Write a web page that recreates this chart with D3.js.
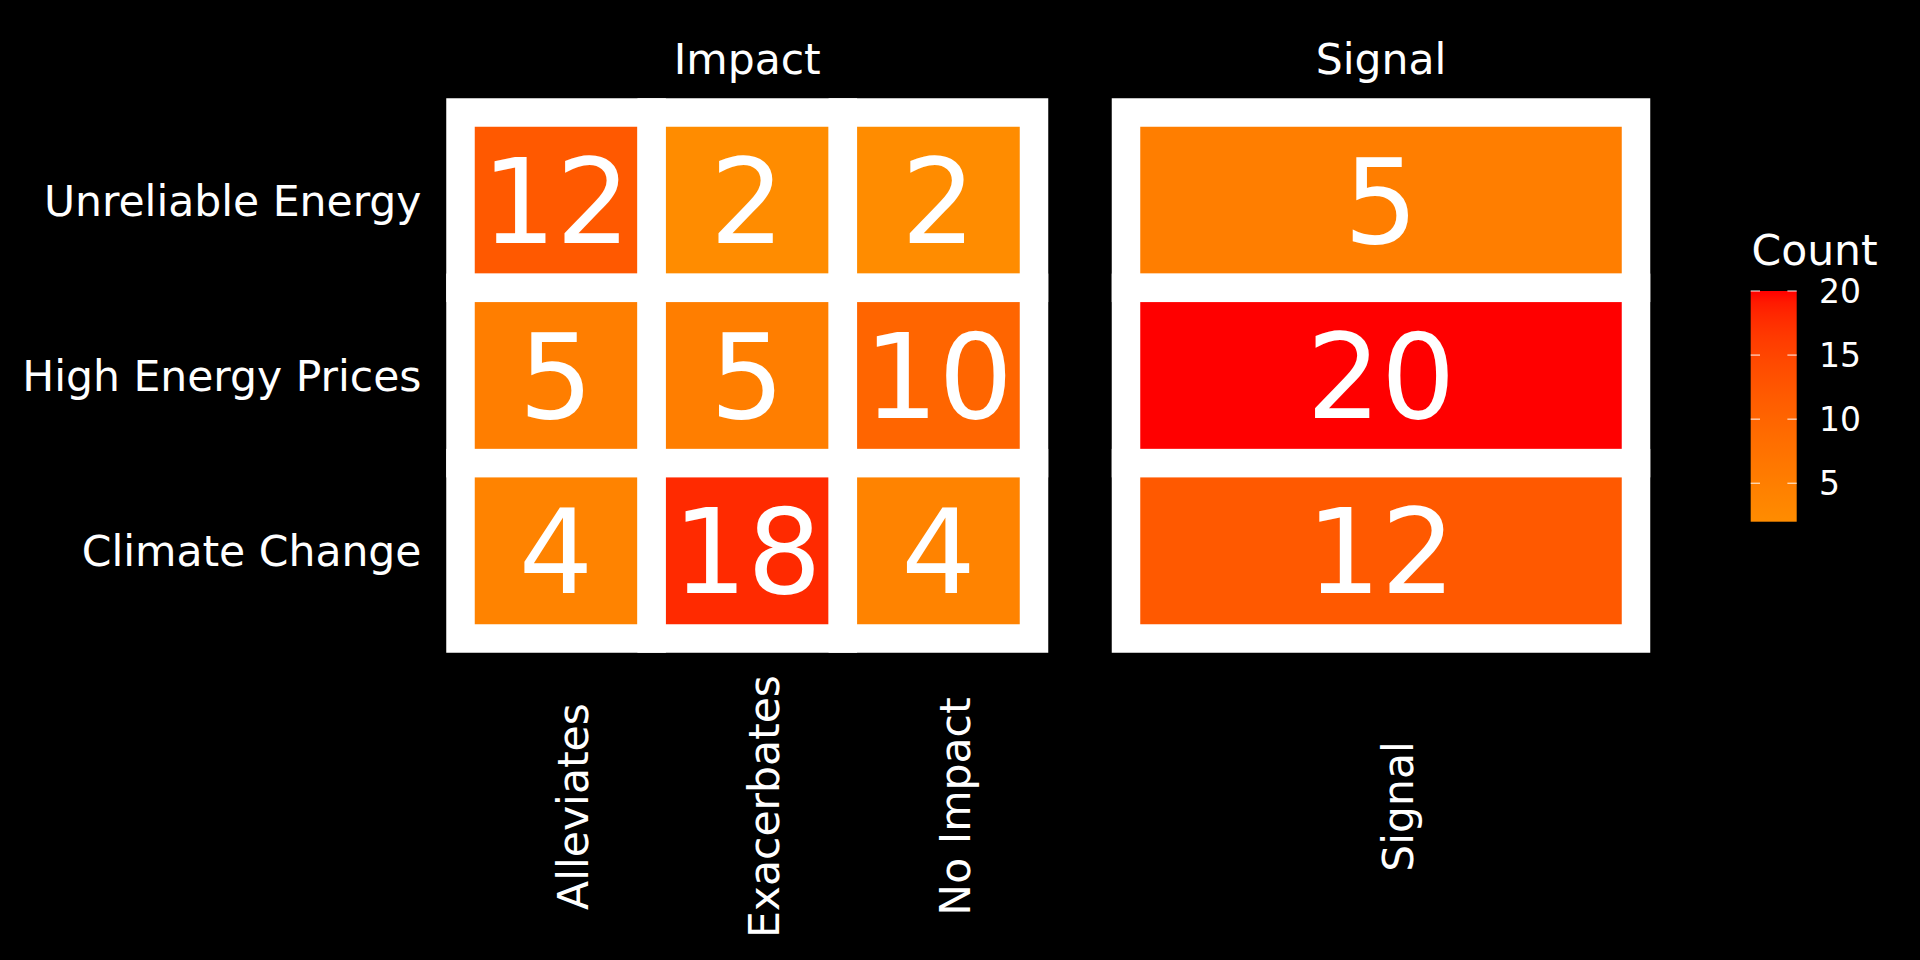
<!DOCTYPE html>
<html>
<head>
<meta charset="utf-8">
<script src="https://cdn.jsdelivr.net/npm/d3@7"></script>
<style>
  html, body { margin: 0; padding: 0; background: #000; }
  svg { display: block; }
  text { font-family: "DejaVu Sans", sans-serif; fill: #fff; }
</style>
</head>
<body>
<svg id="chart" width="1920" height="960"></svg>
<script>
// ---- data ----
const rows = ["Unreliable Energy", "High Energy Prices", "Climate Change"];
const impactCols = ["Alleviates", "Exacerbates", "No Impact"];
const signalCols = ["Signal"];
const panels = ["Impact", "Signal"];
const impactValues = [
  [12, 2, 2],   // Unreliable Energy
  [5, 5, 10],   // High Energy Prices
  [4, 18, 4]    // Climate Change
];
const signalValues = [5, 20, 12];
const legendTicks = [5, 10, 15, 20];
const countRange = [2, 20];

// ---- layout ----
const W = 1920, H = 960;
const svg = d3.select("#chart").attr("width", W).attr("height", H);
svg.append("rect").attr("width", W).attr("height", H).attr("fill", "#000");

const stroke = 28.5;
const y = d3.scaleBand().domain(rows).range([112.5, 638.5]).padding(0);
const xImpact = d3.scaleBand().domain(impactCols).range([460.5, 1034]).padding(0);
const xSignal = d3.scaleBand().domain(signalCols).range([1126, 1636]).padding(0);

const color = d3.scaleLinear().domain(countRange)
  .range(["#ff8c00", "#ff0000"]).interpolate(d3.interpolateLab);

const impactCells = [];
rows.forEach((r, i) => impactCols.forEach((c, j) => impactCells.push({row: r, col: c, value: impactValues[i][j]})));
const signalCells = rows.map((r, i) => ({row: r, col: "Signal", value: signalValues[i]}));

const FS = 42.5;

function drawPanel(cells, x, title) {
  const g = svg.append("g");
  g.selectAll("rect.tile").data(cells).join("rect")
    .attr("class", "tile")
    .attr("x", d => x(d.col))
    .attr("y", d => y(d.row))
    .attr("width", x.bandwidth())
    .attr("height", y.bandwidth())
    .attr("fill", d => color(d.value))
    .attr("stroke", "#fff")
    .attr("stroke-width", stroke)
    .attr("stroke-linejoin", "miter");
  g.selectAll("text.val").data(cells).join("text")
    .attr("class", "val")
    .attr("x", d => x(d.col) + x.bandwidth() / 2)
    .attr("y", d => y(d.row) + y.bandwidth() / 2 + 0.364 * 117)
    .attr("text-anchor", "middle")
    .attr("font-size", 117)
    .text(d => d.value);
  // strip title
  const [x0, x1] = x.range();
  g.append("text")
    .attr("x", (x0 + x1) / 2)
    .attr("y", 74.3)
    .attr("text-anchor", "middle")
    .attr("font-size", FS)
    .text(title);
  // x axis labels (rotated)
  g.selectAll("text.xlab").data(x.domain()).join("text")
    .attr("class", "xlab")
    .attr("transform", d => `translate(${x(d) + x.bandwidth() / 2},806.5) rotate(-90)`)
    .attr("y", 0.745 * FS)
    .attr("text-anchor", "middle")
    .attr("font-size", FS)
    .text(d => d);
}

drawPanel(impactCells, xImpact, panels[0]);
drawPanel(signalCells, xSignal, panels[1]);

// y axis labels
svg.append("g").selectAll("text").data(rows).join("text")
  .attr("x", 421.5)
  .attr("y", d => y(d) + y.bandwidth() / 2 + 0.3645 * FS)
  .attr("text-anchor", "end")
  .attr("font-size", FS)
  .text(d => d);

// ---- legend ----
const lx = 1750.7, lw = 46;
const ly = d3.scaleLinear().domain(countRange).range([521.7, 291]);
const defs = svg.append("defs");
const grad = defs.append("linearGradient").attr("id", "grad")
  .attr("x1", 0).attr("y1", 1).attr("x2", 0).attr("y2", 0);
d3.range(0, 1.0001, 0.05).forEach(t => {
  grad.append("stop").attr("offset", t)
    .attr("stop-color", color(countRange[0] + t * (countRange[1] - countRange[0])));
});
const lg = svg.append("g");
lg.append("text").attr("x", 1751.5).attr("y", 265).attr("font-size", FS).text("Count");
lg.append("rect").attr("x", lx).attr("y", ly(countRange[1]))
  .attr("width", lw).attr("height", ly(countRange[0]) - ly(countRange[1]))
  .attr("fill", "url(#grad)");
const tickLen = 9.3;
legendTicks.forEach(v => {
  lg.append("line").attr("x1", lx).attr("x2", lx + tickLen)
    .attr("y1", ly(v)).attr("y2", ly(v))
    .attr("stroke", "#fff").attr("stroke-opacity", 0.8).attr("stroke-width", 1.2);
  lg.append("line").attr("x1", lx + lw - tickLen).attr("x2", lx + lw)
    .attr("y1", ly(v)).attr("y2", ly(v))
    .attr("stroke", "#fff").attr("stroke-opacity", 0.8).attr("stroke-width", 1.2);
});
lg.selectAll("text.tick").data(legendTicks).join("text")
  .attr("class", "tick")
  .attr("x", 1819)
  .attr("y", d => ly(d) + 0.3645 * 33)
  .attr("font-size", 33)
  .text(d => d);
</script>
</body>
</html>
